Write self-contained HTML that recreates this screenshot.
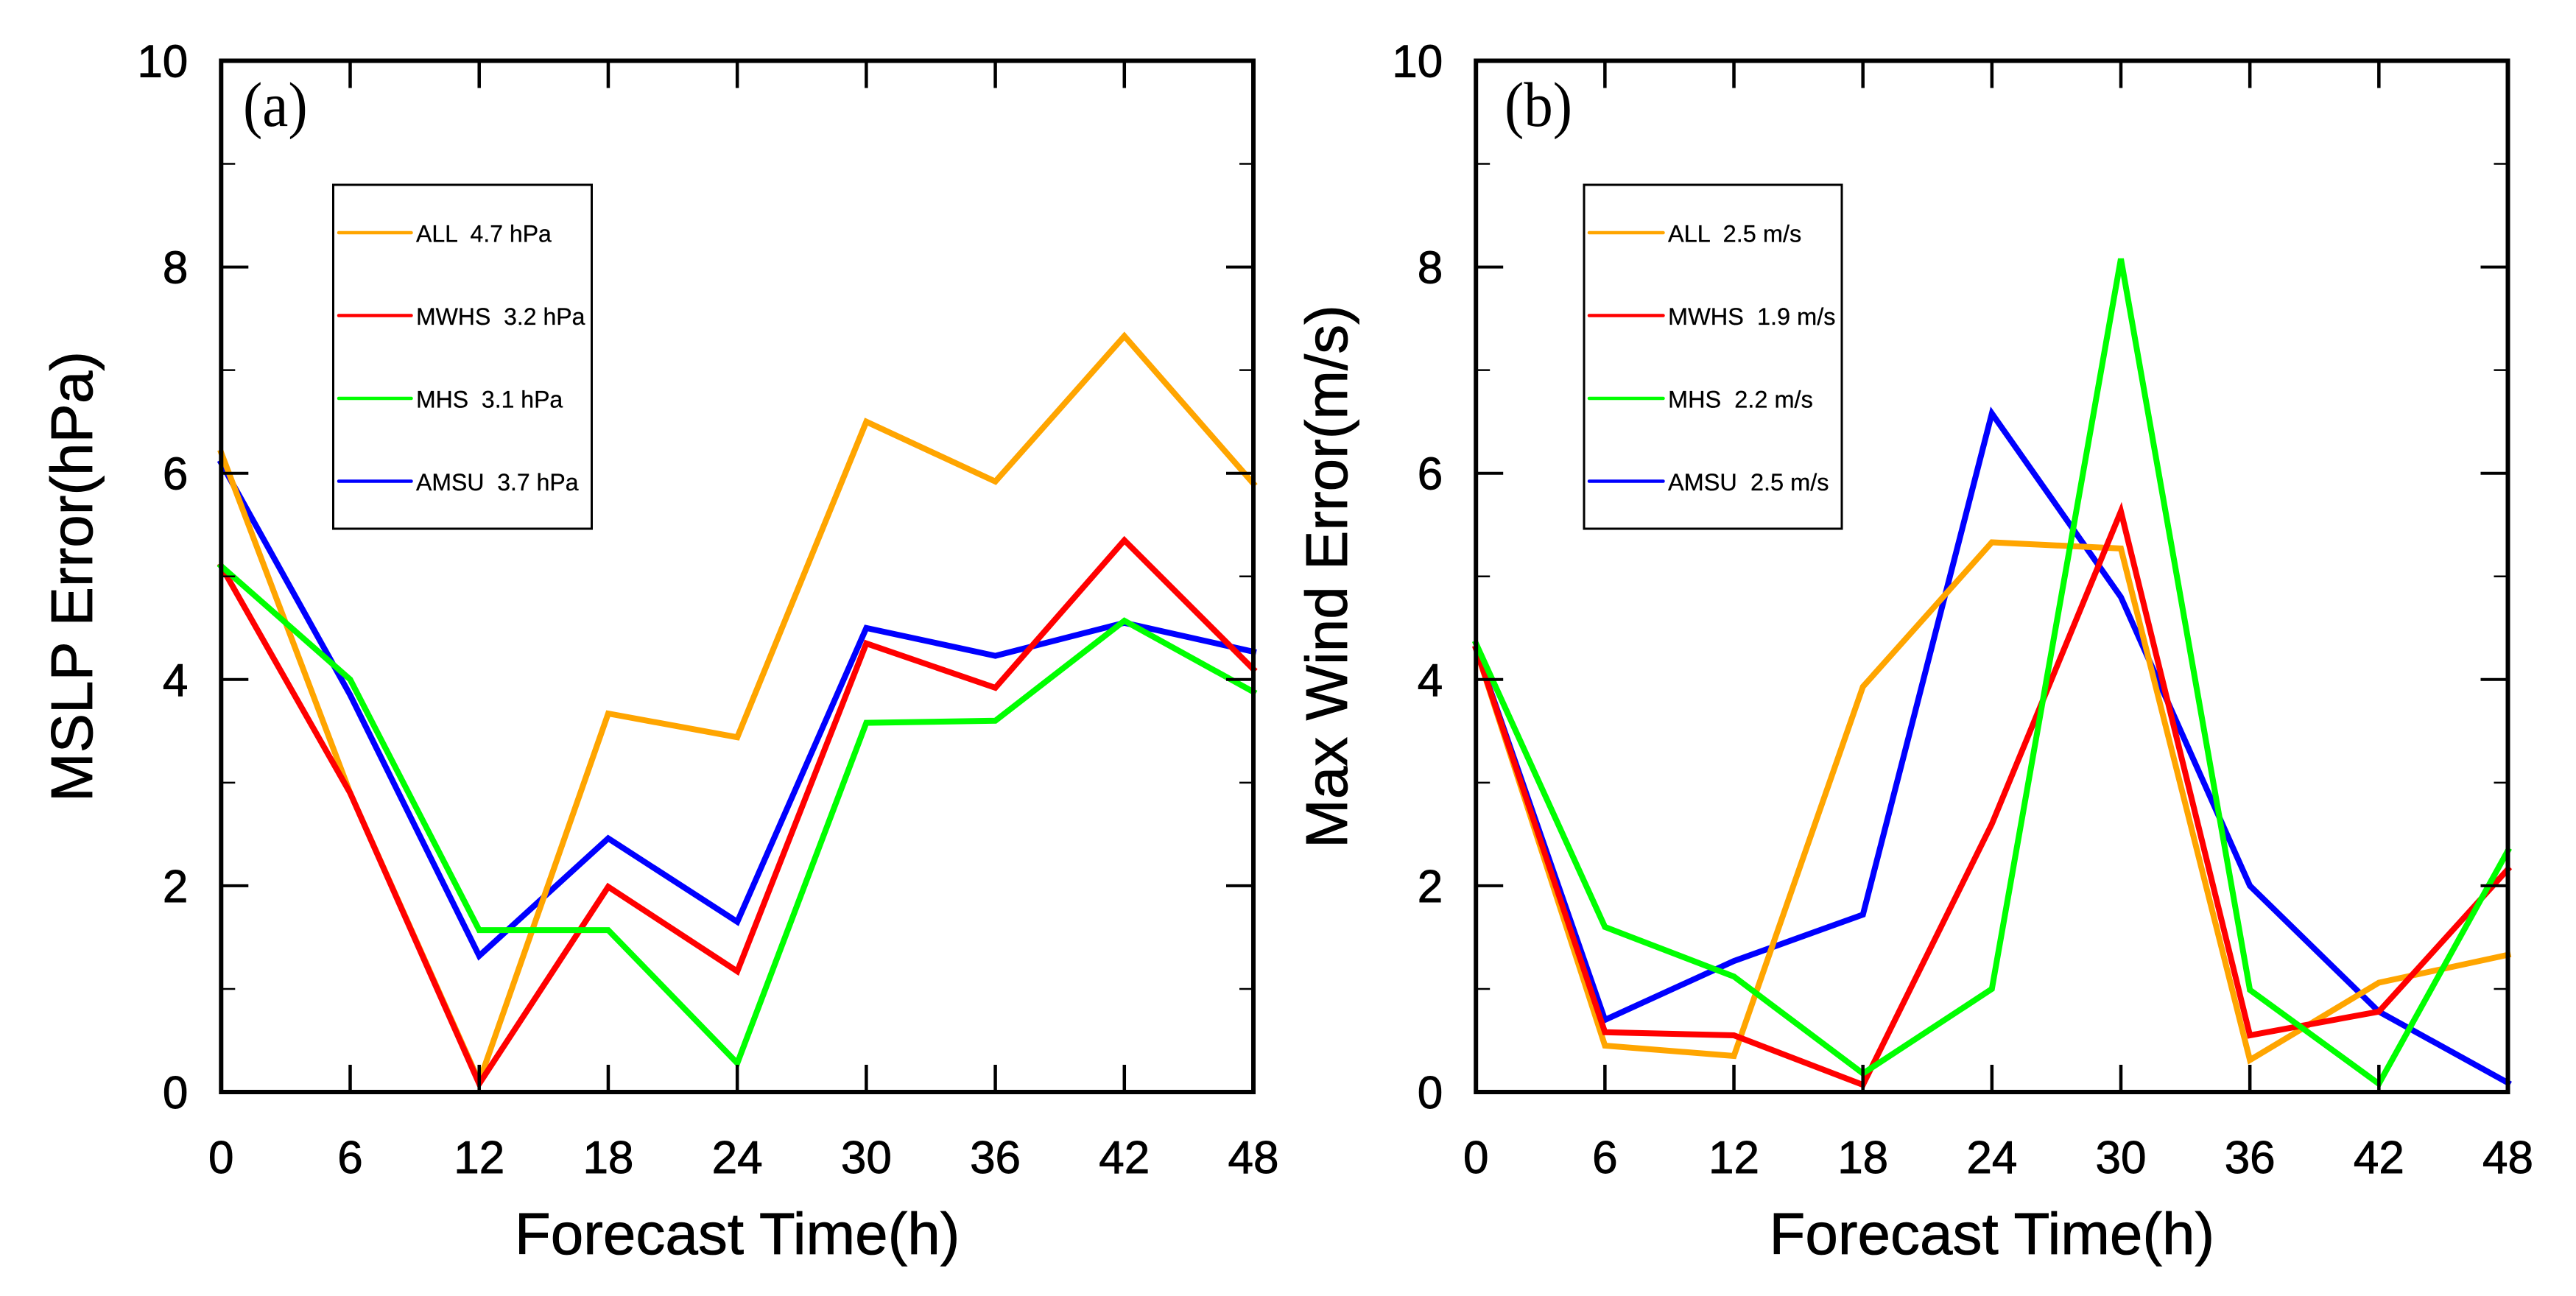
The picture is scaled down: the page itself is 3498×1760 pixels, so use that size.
<!DOCTYPE html>
<html lang="en">
<head>
<meta charset="utf-8">
<title>MSLP and Max Wind Error vs Forecast Time</title>
<style>
html,body{margin:0;padding:0;background:#fff;}
#figure{display:block;width:3498px;height:1760px;background:#fff;}
text{font-family:"Liberation Sans",sans-serif;fill:#000;white-space:pre;}
</style>
</head>
<body>
<svg id="figure" xmlns="http://www.w3.org/2000/svg" width="3498" height="1760" viewBox="0 0 3498 1760"></svg>
<script>
const hours = [0, 6, 12, 18, 24, 30, 36, 42, 48];
const yMajorTicks = [0, 2, 4, 6, 8, 10];
const yMinorTicks = [1, 3, 5, 7, 9];

const mslpAll  = [6.2, 2.9, 0.1, 3.67, 3.44, 6.5, 5.92, 7.33, 5.9];
const mslpMwhs = [5.1, 2.9, 0.08, 1.99, 1.17, 4.35, 3.92, 5.35, 4.1];
const mslpMhs  = [5.1, 4.0, 1.57, 1.57, 0.28, 3.58, 3.6, 4.57, 3.88];
const mslpAmsu = [6.1, 3.85, 1.32, 2.46, 1.65, 4.5, 4.23, 4.55, 4.27];

const windAll  = [4.3, 0.45, 0.35, 3.93, 5.33, 5.27, 0.31, 1.06, 1.33];
const windMwhs = [4.3, 0.58, 0.55, 0.07, 2.6, 5.63, 0.55, 0.78, 2.16];
const windMhs  = [4.35, 1.6, 1.12, 0.18, 1.0, 8.08, 0.99, 0.08, 2.34];
const windAmsu = [4.3, 0.7, 1.27, 1.72, 6.58, 4.8, 2.0, 0.78, 0.09];

const mslpLegendLabels = ["ALL  4.7 hPa", "MWHS  3.2 hPa", "MHS  3.1 hPa", "AMSU  3.7 hPa"];
const windLegendLabels = ["ALL  2.5 m/s", "MWHS  1.9 m/s", "MHS  2.2 m/s", "AMSU  2.5 m/s"];
const seriesNames = ["all", "mwhs", "mhs", "amsu"];
const seriesColors = ["#ffa500", "#ff0000", "#00ff00", "#0000ff"];

const SVG_NS = "http://www.w3.org/2000/svg";
const root = document.getElementById("figure");

function make(parent, tag, attrs, content) {
  const el = document.createElementNS(SVG_NS, tag);
  for (const k in attrs) el.setAttribute(k, attrs[k]);
  if (content !== undefined) el.textContent = content;
  parent.appendChild(el);
  return el;
}

function drawPanel(p) {
  const xScale = h => p.x0 + (h - hours[0]) / (hours[hours.length - 1] - hours[0]) * (p.x1 - p.x0);
  const yScale = v => p.yBottom - v / 10 * (p.yBottom - p.yTop);

  const g = make(root, "g", {});
  
  

  // series, back to front: AMSU, ALL, MWHS, MHS
  [3, 0, 1, 2].forEach(i => {
    const d = p.values[i].map((v, j) => (j ? "L" : "M") + xScale(hours[j]).toFixed(1) + " " + yScale(v).toFixed(1)).join(" ");
    const line = make(g, "path", {d: d, fill: "none", stroke: seriesColors[i], "stroke-width": 8, "stroke-linejoin": "miter", "stroke-linecap": "square"});
    
    
  });

  // plot frame
  const frame = make(g, "rect", {x: p.x0, y: p.yTop, width: p.x1 - p.x0, height: p.yBottom - p.yTop, fill: "none", stroke: "#000", "stroke-width": 6});
  
  

  // x ticks and labels
  hours.forEach((h, j) => {
    const x = xScale(h);
    if (j > 0 && j < hours.length - 1) {
      const bottomTick = make(g, "line", {x1: x, x2: x, y1: p.yBottom, y2: p.yBottom - 37, stroke: "#000", "stroke-width": 4.5});
      
      
      const topTick = make(g, "line", {x1: x, x2: x, y1: p.yTop, y2: p.yTop + 37, stroke: "#000", "stroke-width": 4.5});
      
      
    }
    const label = make(g, "text", {x: x, y: 1593, "font-size": 62, "text-anchor": "middle", stroke: "#000", "stroke-width": 0.9}, String(h));
    
    
  });

  // y major ticks and labels
  yMajorTicks.forEach(v => {
    const y = yScale(v);
    if (v > 0 && v < 10) {
      const leftTick = make(g, "line", {x1: p.x0, x2: p.x0 + 37, y1: y, y2: y, stroke: "#000", "stroke-width": 4});
      
      
      const rightTick = make(g, "line", {x1: p.x1, x2: p.x1 - 37, y1: y, y2: y, stroke: "#000", "stroke-width": 4});
      
      
    }
    const label = make(g, "text", {x: p.x0 - 45, y: y + 22, "font-size": 62, "text-anchor": "end", stroke: "#000", "stroke-width": 0.9}, String(v));
    
    
  });

  // y minor ticks
  yMinorTicks.forEach(v => {
    const y = yScale(v);
    const leftMinor = make(g, "line", {x1: p.x0, x2: p.x0 + 19, y1: y, y2: y, stroke: "#000", "stroke-width": 2.5});
    
    
    const rightMinor = make(g, "line", {x1: p.x1, x2: p.x1 - 19, y1: y, y2: y, stroke: "#000", "stroke-width": 2.5});
    
    
  });

  // axis titles
  const xTitle = make(g, "text", {x: (p.x0 + p.x1) / 2, y: 1703, "font-size": 80, "text-anchor": "middle", stroke: "#000", "stroke-width": 0.8}, "Forecast Time(h)");
  
  
  const yTitle = make(g, "text", {transform: "translate(" + p.yTitleX + " 783) rotate(-90)", "font-size": 80, "text-anchor": "middle", stroke: "#000", "stroke-width": 0.8}, p.yTitle);
  
  

  // panel letter
  const letter = make(g, "text", {transform: "translate(" + p.letterX + " 171) scale(1 1.09)", "font-size": 79, style: 'font-family:"Liberation Serif",serif'}, p.letter);
  
  

  // legend
  const legend = make(g, "g", {});
  
  
  const box = make(legend, "rect", {x: p.legX0, y: 251, width: p.legX1 - p.legX0, height: 467, fill: "#fff", stroke: "#000", "stroke-width": 3});
  
  
  p.labels.forEach((txt, i) => {
    const y = 316 + i * 112.5;
    const key = make(legend, "line", {x1: p.keyX0, x2: p.keyX1, y1: y, y2: y, stroke: seriesColors[i], "stroke-width": 4.5, "stroke-linecap": "round"});
    
    
    const label = make(legend, "text", {x: p.keyX1 + 6.5, y: y + 12.5, "font-size": p.legendFont, stroke: "#000", "stroke-width": 0.3}, txt);
    
    
  });
}

drawPanel({
  name: "panel-a-mslp-error",
  x0: 300.3, x1: 1702, yTop: 82.5, yBottom: 1483,
  values: [mslpAll, mslpMwhs, mslpMhs, mslpAmsu],
  labels: mslpLegendLabels, legendFont: 32,
  yTitle: "MSLP Error(hPa)", yTitleX: 125,
  letter: "(a)", letterX: 330,
  legX0: 452.5, legX1: 803.5, keyX0: 460, keyX1: 558.5
});
drawPanel({
  name: "panel-b-max-wind-error",
  x0: 2004.2, x1: 3405.5, yTop: 82.5, yBottom: 1483,
  values: [windAll, windMwhs, windMhs, windAmsu],
  labels: windLegendLabels, legendFont: 32.5,
  yTitle: "Max Wind Error(m/s)", yTitleX: 1829,
  letter: "(b)", letterX: 2043,
  legX0: 2151, legX1: 2501, keyX0: 2158, keyX1: 2258.5
});
</script>
</body>
</html>
